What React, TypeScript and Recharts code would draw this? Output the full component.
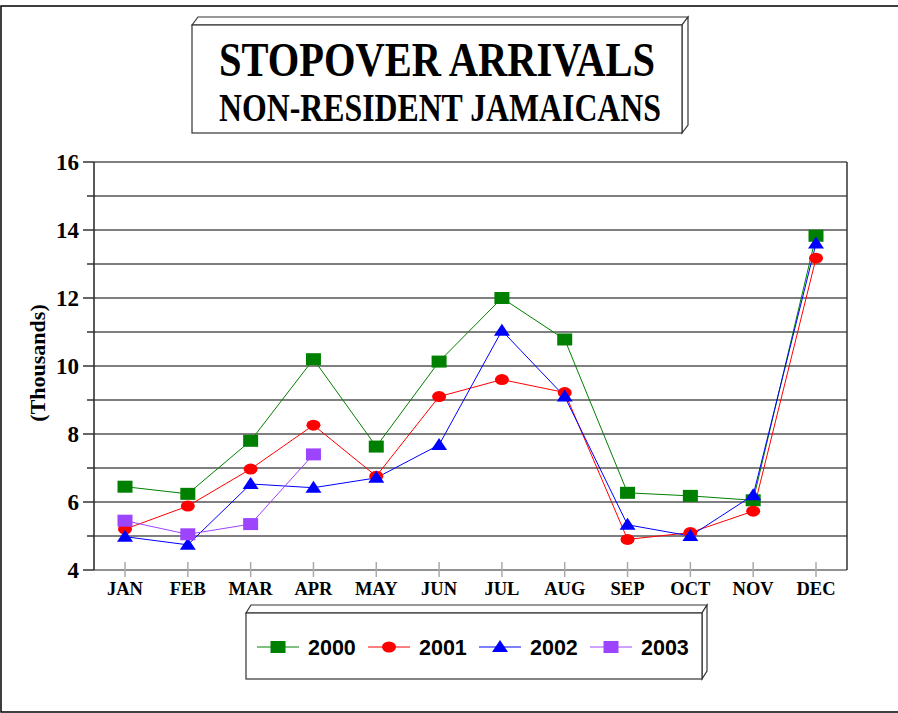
import { LineChart, Line, XAxis, YAxis, CartesianGrid } from 'recharts'

const MONTHS = ['JAN', 'FEB', 'MAR', 'APR', 'MAY', 'JUN', 'JUL', 'AUG', 'SEP', 'OCT', 'NOV', 'DEC']
const Y_TICKS = [4, 5, 6, 7, 8, 9, 10, 11, 12, 13, 14, 15, 16]

const S2000 = [6.45, 6.24, 7.8, 10.2, 7.63, 10.13, 12.0, 10.78, 6.27, 6.18, 6.05, 13.83]
const S2001 = [5.2, 5.88, 6.97, 8.26, 6.76, 9.1, 9.6, 9.22, 4.9, 5.1, 5.73, 13.17]
const S2002 = [4.98, 4.74, 6.53, 6.42, 6.71, 7.68, 11.04, 9.1, 5.33, 5.0, 6.2, 13.6]
const S2003 = [5.45, 5.05, 5.35, 7.4, null, null, null, null, null, null, null, null]

const SERIES = [
  { key: 'y2000', name: '2000', color: '#008000', shape: 'square', values: S2000 },
  { key: 'y2001', name: '2001', color: '#ff0000', shape: 'circle', values: S2001 },
  { key: 'y2002', name: '2002', color: '#0000ff', shape: 'triangle', values: S2002 },
  { key: 'y2003', name: '2003', color: '#9d44ff', shape: 'square', values: S2003 },
]

const data = MONTHS.map((m, i) => {
  const row: Record<string, any> = { month: m }
  SERIES.forEach(s => { row[s.key] = s.values[i] })
  return row
})

const SERIF = '"Liberation Serif", "Times New Roman", serif'
const SANS = '"Liberation Sans", Arial, sans-serif'

function Marker({ shape, color, cx, cy }: { shape: string; color: string; cx: number; cy: number }) {
  if (cx == null || cy == null || isNaN(cx) || isNaN(cy)) return null
  if (shape === 'circle') return <ellipse cx={cx} cy={cy} rx={7} ry={5.5} fill={color} />
  if (shape === 'triangle')
    return <polygon points={`${cx},${cy - 7} ${cx - 8},${cy + 5} ${cx + 8},${cy + 5}`} fill={color} />
  return <rect x={cx - 7.5} y={cy - 6} width={15} height={12} fill={color} />
}

function YTick(props: any) {
  const { x, y, payload } = props
  const major = payload.value % 2 === 0
  return (
    <g>
      <line x1={x - (major ? 11 : 7)} x2={x} y1={y} y2={y} stroke="#333" strokeWidth={1.5} />
      {major && (
        <text x={x - 15} y={y + 7.5} textAnchor="end" fontFamily={SERIF} fontWeight="bold" fontSize={23} fill="#000">
          {payload.value}
        </text>
      )}
    </g>
  )
}

function XTick(props: any) {
  const { x, y, payload } = props
  return (
    <g>
      <line x1={x} x2={x} y1={y - 8} y2={y + 7} stroke="#aaa" strokeWidth={1.5} />
      <text x={x} y={y + 25} textAnchor="middle" fontFamily={SERIF} fontWeight="bold" fontSize={18.5} fill="#000">
        {payload.value}
      </text>
    </g>
  )
}

function Box3D({ x, y, w, h, dx, dy }: { x: number; y: number; w: number; h: number; dx: number; dy: number }) {
  return (
    <g stroke="#333" strokeWidth={1.2} fill="#fff">
      <polygon points={`${x},${y} ${x + dx},${y + dy} ${x + w + dx},${y + dy} ${x + w},${y}`} />
      <polygon points={`${x + w},${y} ${x + w + dx},${y + dy} ${x + w + dx},${y + h + dy} ${x + w},${y + h}`} />
      <rect x={x} y={y} width={w} height={h} />
    </g>
  )
}

export default function App() {
  return (
    <div style={{ position: 'absolute', left: 0, top: 0, width: 898, height: 713, background: '#fff' }}>
      <LineChart
        width={898}
        height={713}
        data={data}
        margin={{ top: 162, right: 0, bottom: 113, left: 0 }}
      >
        <CartesianGrid vertical={false} stroke="#555" strokeWidth={1.3} />
        <XAxis
          dataKey="month"
          height={30}
          padding={{ left: 31, right: 31 }}
          axisLine={{ stroke: '#999', strokeWidth: 1.5 }}
          tickLine={false}
          tickSize={0}
          tickMargin={0}
          tick={<XTick />}
          interval={0}
        />
        <YAxis
          domain={[4, 16]}
          ticks={Y_TICKS}
          width={94}
          axisLine={{ stroke: '#222', strokeWidth: 1.5 }}
          tickLine={false}
          tickSize={0}
          tickMargin={0}
          tick={<YTick />}
          interval={0}
        />
        <YAxis
          yAxisId="right"
          orientation="right"
          domain={[4, 16]}
          width={51}
          tick={false}
          tickLine={false}
          axisLine={{ stroke: '#333', strokeWidth: 1.5 }}
        />
        {SERIES.map(s => (
          <Line
            key={s.key}
            dataKey={s.key}
            name={s.name}
            stroke={s.color}
            strokeWidth={1}
            isAnimationActive={false}
            connectNulls={false}
            dot={(p: any) => <Marker key={`${s.key}-${p.index}`} shape={s.shape} color={s.color} cx={p.cx} cy={p.cy} />}
            activeDot={false}
          />
        ))}
      </LineChart>
      <svg width={898} height={713} style={{ position: 'absolute', left: 0, top: 0, pointerEvents: 'none' }}>
        <rect x={1} y={6} width={905} height={706} fill="none" stroke="#000" strokeWidth={1.5} />
        <Box3D x={192} y={25} w={490} h={108} dx={6} dy={-8} />
        <text
          transform="translate(437,76) scale(1,1.22)"
          textAnchor="middle"
          fontFamily={SERIF}
          fontWeight="bold"
          fontSize={40.5}
          fill="#000"
        >
          STOPOVER ARRIVALS
        </text>
        <text
          transform="translate(440,121) scale(1,1.28)"
          textAnchor="middle"
          fontFamily={SERIF}
          fontWeight="bold"
          fontSize={31.8}
          fill="#000"
        >
          NON-RESIDENT JAMAICANS
        </text>
        <text
          transform="translate(45,363) rotate(-90)"
          textAnchor="middle"
          fontFamily={SERIF}
          fontWeight="bold"
          fontSize={22}
          fill="#000"
        >
          (Thousands)
        </text>
        <Box3D x={246} y={613} w={456} h={66} dx={5} dy={-8} />
        {SERIES.map((s, i) => {
          const lx = 257 + i * 111
          const cy = 647
          return (
            <g key={s.key}>
              <line x1={lx} x2={lx + 42} y1={cy} y2={cy} stroke={s.color} strokeWidth={1} />
              <Marker shape={s.shape} color={s.color} cx={lx + 21} cy={cy} />
              <text x={lx + 51} y={cy + 8} fontFamily={SANS} fontWeight="bold" fontSize={21.5} fill="#000">
                {s.name}
              </text>
            </g>
          )
        })}
      </svg>
    </div>
  )
}
